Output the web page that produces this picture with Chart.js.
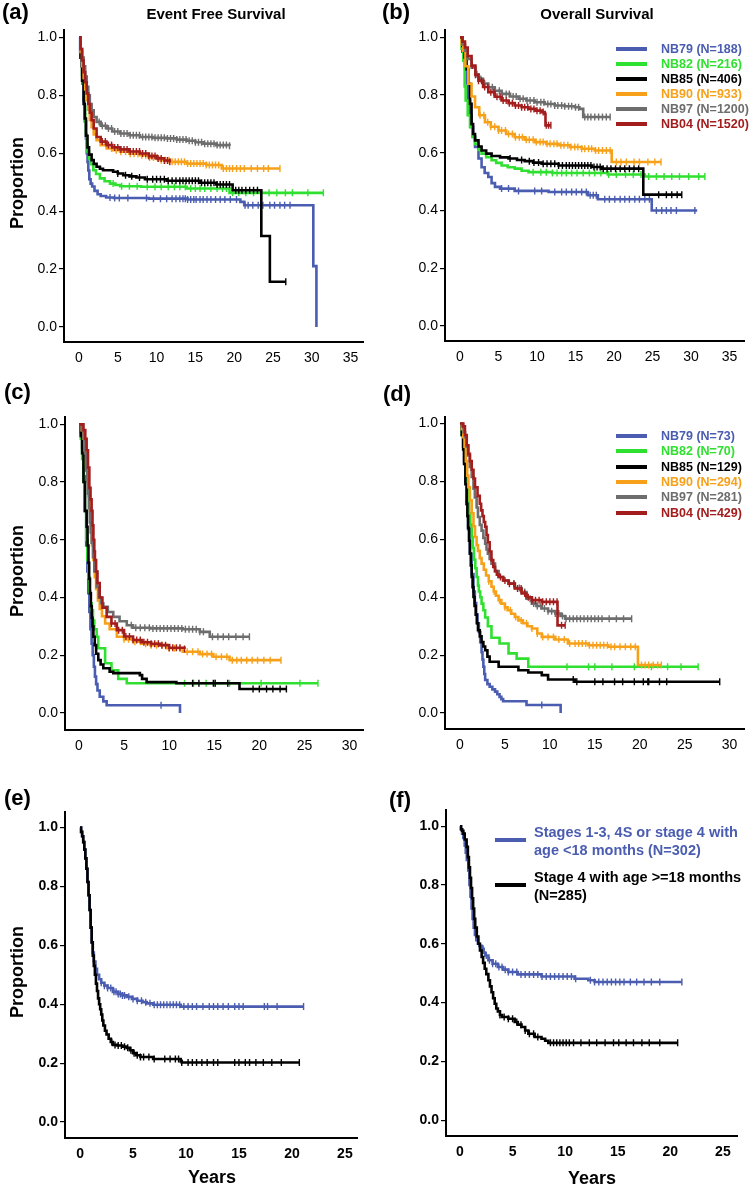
<!DOCTYPE html>
<html>
<head>
<meta charset="utf-8">
<title>Neuroblastoma survival by trial</title>
<script src="https://cdn.jsdelivr.net/npm/chart.js@4.4.1/dist/chart.umd.min.js"></script>
<style>
  html, body { margin: 0; padding: 0; background: #fff; }
  #page { position: relative; width: 750px; height: 1185px; overflow: hidden;
          font-family: "Liberation Sans", Arial, sans-serif; color: #000; }
  #page canvas, .txt, .key { position: absolute; }
  .txt { white-space: pre; font-weight: bold; line-height: 1; }
  .tag { font-size: 22px; }
  .head { font-size: 15px; }
  .axis-title { font-size: 18px; }
  .key { height: 4px; width: 31px; }
  .entry { font-size: 12.5px; line-height: 15px; }
  .entry2 { font-size: 14.5px; line-height: 18px; }
</style>
</head>
<body>
<div id="page"></div>
<script>
// cohorts and legend text
const cohortNames = ['NB79', 'NB82', 'NB85', 'NB90', 'NB97', 'NB04'];
const cohortColors = ['#4a5db0', '#30e030', '#000000', '#f7a11a', '#6d6d6d', '#a31d1d'];
const cohortNAll = [188, 216, 406, 933, 1200, 1520];
const cohortNHigh = [73, 70, 129, 294, 281, 429];
const stageLabels = ['Stages 1-3, 4S or stage 4 with\nage <18 months (N=302)', 'Stage 4 with age >=18 months\n(N=285)'];
const stageColors = ['#4a5db0', '#000000'];

const yTickValues = [0, 0.2, 0.4, 0.6, 0.8, 1.0];
const xTicks35 = [0, 5, 10, 15, 20, 25, 30, 35];
const xTicks30 = [0, 5, 10, 15, 20, 25, 30];
const xTicks25 = [0, 5, 10, 15, 20, 25];

// (a) event free survival, all patients: [years, proportion] after each step
const efs79 = [[0,1],[0.15,0.95],[0.3,0.9],[0.45,0.84],[0.6,0.78],[0.75,0.71],[0.9,0.65],[1.0,0.6],[1.1,0.57],[1.2,0.54],[1.33,0.51],[1.5,0.495],[1.7,0.485],[2.0,0.47],[2.4,0.458],[2.8,0.452],[3.5,0.447],[4.5,0.445],[9,0.443],[14,0.44],[20.8,0.432],[21.3,0.42],[30.2,0.21],[30.6,0.0]];
const efs82 = [[0,1],[0.2,0.93],[0.4,0.87],[0.56,0.84],[0.7,0.76],[0.8,0.71],[0.9,0.668],[1.0,0.63],[1.1,0.605],[1.3,0.58],[1.5,0.562],[1.85,0.541],[2.2,0.528],[2.7,0.513],[3.3,0.503],[4.0,0.495],[4.7,0.49],[5.3,0.486],[8,0.484],[13.9,0.478],[19.4,0.463],[31.5,0.463]];
const efs85 = [[0,1],[0.2,0.93],[0.4,0.85],[0.6,0.77],[0.75,0.72],[0.9,0.66],[1.1,0.62],[1.3,0.595],[1.63,0.576],[1.9,0.563],[2.27,0.553],[2.7,0.546],[3.1,0.541],[4.4,0.536],[5.0,0.53],[5.7,0.524],[6.5,0.52],[7.4,0.516],[8.5,0.51],[11.3,0.505],[15.6,0.498],[17.7,0.492],[19.8,0.472],[23.5,0.314],[24.6,0.156],[26.65,0.156]];
const efs90 = [[0,1],[0.2,0.95],[0.4,0.9],[0.6,0.86],[0.8,0.82],[1.0,0.783],[1.2,0.75],[1.4,0.715],[1.63,0.69],[1.9,0.665],[2.27,0.645],[2.8,0.628],[3.56,0.616],[4.3,0.61],[5.3,0.605],[6.5,0.598],[7.85,0.593],[9,0.585],[10.4,0.576],[11.7,0.57],[13.9,0.564],[16.4,0.559],[18.4,0.547],[25.9,0.547]];
const efs97 = [[0,1],[0.2,0.96],[0.4,0.93],[0.6,0.9],[0.8,0.865],[1.0,0.829],[1.2,0.8],[1.4,0.77],[1.63,0.748],[1.9,0.725],[2.27,0.708],[2.8,0.695],[3.56,0.685],[4.3,0.675],[5.3,0.668],[6.5,0.662],[7.85,0.656],[9.5,0.653],[11.3,0.651],[12.6,0.647],[13.9,0.643],[15.0,0.638],[16.0,0.633],[17.7,0.628],[19.4,0.626]];
const efs04 = [[0,1],[0.2,0.96],[0.4,0.92],[0.6,0.88],[0.8,0.845],[1.0,0.806],[1.2,0.77],[1.4,0.74],[1.63,0.714],[1.9,0.685],[2.27,0.656],[2.8,0.64],[3.56,0.628],[4.3,0.62],[5.3,0.613],[6.5,0.606],[7.85,0.599],[9,0.59],[10.0,0.582],[11.0,0.575],[11.7,0.57]];
// censored times
const efs79Cens = [4.0,4.6,5.2,6.3,8.7,9.6,10.5,11.3,12.0,12.5,13.0,13.4,13.7,14.0,14.4,14.8,15.1,15.6,16.0,16.5,17.0,17.6,18.2,18.8,19.5,20.3,21.4,21.8,22.4,23.1,23.7,24.6,25.2,25.9,26.5,27.2];
const efs82Cens = [4.4,5.5,6.5,7.5,8.8,9.8,10.6,11.5,12.3,13.0,13.7,14.4,15.0,15.6,16.2,17.0,17.8,18.5,19.0,19.8,20.6,21.5,22.5,23.5,24.5,25.5,26.6,27.5,29.5,31.5];
const efs85Cens = [5.0,6.0,6.8,7.8,8.8,9.5,10.0,10.5,11.0,11.5,12.0,12.5,13.0,13.4,13.8,14.2,14.6,15.0,15.4,15.8,16.2,16.6,17.0,17.4,17.8,18.2,18.6,19.0,19.4,20.2,20.6,21.0,21.5,22.0,22.5,23.0,26.65];
const efs90Cens = [4.2,4.8,5.4,6.0,6.6,7.1,7.6,8.1,8.6,9.1,9.6,10.1,10.6,11.1,11.6,12.0,12.4,12.8,13.2,13.6,14.0,14.4,14.8,15.2,15.6,16.0,16.4,16.8,17.2,17.6,18.0,18.6,19.0,19.4,19.8,20.3,20.8,21.3,22.2,23.0,23.8,24.4,25.9];
const efs97Cens = [2.6,3.0,3.4,3.8,4.2,4.6,5.0,5.4,5.8,6.2,6.6,7.0,7.4,7.8,8.2,8.6,9.0,9.4,9.8,10.2,10.6,11.0,11.4,11.8,12.2,12.6,13.0,13.4,13.8,14.2,14.6,15.0,15.4,15.8,16.2,16.6,17.0,17.4,17.8,18.2,18.6,19.0,19.4];
const efs04Cens = [3.0,3.4,3.8,4.2,4.6,5.0,5.4,5.8,6.2,6.6,7.0,7.4,7.8,8.2,8.6,9.0,9.4,9.8,10.2,10.6,11.0,11.4,11.7];

// (b) overall survival, all patients
const os79 = [[0,1],[0.3,0.95],[0.65,0.896],[0.85,0.84],[1.08,0.78],[1.3,0.73],[1.5,0.689],[1.7,0.655],[1.95,0.62],[2.4,0.58],[2.8,0.55],[3.2,0.53],[3.67,0.516],[4.1,0.495],[4.54,0.482],[5.2,0.476],[7.1,0.468],[11.5,0.464],[16.6,0.453],[17.9,0.439],[24.9,0.40],[30.8,0.40]];
const os82 = [[0,1],[0.2,0.96],[0.43,0.919],[0.6,0.83],[0.73,0.781],[1.0,0.73],[1.3,0.689],[1.6,0.655],[1.95,0.631],[2.4,0.61],[2.8,0.597],[3.4,0.585],[4.1,0.574],[4.7,0.565],[5.4,0.556],[6.2,0.55],[7.1,0.545],[8.0,0.538],[8.9,0.533],[12,0.53],[19.2,0.525],[24,0.518],[31.8,0.518]];
const os85 = [[0,1],[0.3,0.97],[0.6,0.93],[0.85,0.89],[1.08,0.839],[1.3,0.77],[1.5,0.7],[1.7,0.665],[1.95,0.643],[2.4,0.622],[2.8,0.608],[3.4,0.597],[4.1,0.589],[5.2,0.584],[6.3,0.58],[7.4,0.575],[8.4,0.571],[9.5,0.566],[10.6,0.562],[12.8,0.556],[17.1,0.551],[18.4,0.545],[23.8,0.455],[28.8,0.455]];
const os90 = [[0,1],[0.2,0.975],[0.43,0.954],[0.7,0.9],[1.08,0.839],[1.5,0.795],[1.95,0.758],[2.5,0.73],[3.24,0.706],[4.0,0.69],[5.0,0.677],[6.0,0.665],[7.1,0.654],[8.4,0.645],[9.7,0.637],[11.2,0.631],[12.8,0.626],[14.3,0.62],[15.8,0.614],[17.5,0.608],[19.7,0.568],[26.1,0.568]];
const os97 = [[0,1],[0.3,0.975],[0.65,0.954],[1.0,0.925],[1.5,0.896],[2.0,0.872],[2.4,0.856],[3.0,0.84],[3.67,0.827],[4.5,0.815],[5.4,0.804],[6.5,0.795],[7.6,0.787],[8.6,0.781],[9.7,0.775],[11.0,0.769],[12.3,0.764],[13.6,0.761],[14.9,0.758],[15.5,0.752],[16.0,0.724],[19.5,0.724]];
const os04 = [[0,1],[0.3,0.985],[0.65,0.965],[1.0,0.935],[1.5,0.902],[2.0,0.87],[2.4,0.85],[3.0,0.828],[3.67,0.81],[4.5,0.794],[5.4,0.781],[6.3,0.772],[7.1,0.764],[8.0,0.758],[8.9,0.752],[9.8,0.746],[10.6,0.741],[11.0,0.735],[11.1,0.695],[11.8,0.695]];
const os79Cens = [5.4,6.3,7.6,9.7,10.6,12.3,13.2,13.8,14.5,15.1,15.8,16.4,16.9,17.3,17.7,18.8,19.4,20.1,20.8,21.4,22.0,22.7,23.3,24.0,24.6,25.5,26.2,26.8,27.4,28.1,30.5];
const os82Cens = [9.5,10.5,11.2,12.0,12.6,13.2,13.8,14.5,15.2,16.0,16.8,17.5,18.3,19.3,20.3,21.5,22.5,23.5,24.5,25.5,26.5,27.5,28.5,29.7,31.0,31.8];
const os85Cens = [6.5,8.0,9.0,9.6,10.2,10.8,11.3,11.8,12.3,12.8,13.3,13.8,14.2,14.6,15.0,15.4,15.8,16.2,16.6,17.0,17.4,17.8,18.2,18.6,19.1,19.6,20.2,20.8,21.4,22.0,22.6,23.2,25.8,26.8,27.5,28.2,28.8];
const os90Cens = [2.6,3.1,3.6,4.0,4.5,5.0,5.4,5.9,6.3,6.8,7.2,7.7,8.1,8.6,9.0,9.5,9.9,10.4,10.8,11.3,11.7,12.2,12.6,13.1,13.5,14.0,14.4,14.9,15.3,15.8,16.2,16.7,17.1,17.6,18.0,18.5,19.0,19.5,20.3,20.9,21.6,22.6,23.3,24.4,25.3,26.1];
const os97Cens = [2.2,2.7,3.2,3.7,4.2,4.6,5.1,5.5,6.0,6.4,6.9,7.3,7.8,8.2,8.7,9.1,9.6,10.0,10.5,10.9,11.4,11.8,12.3,12.7,13.2,13.6,14.1,14.5,15.0,15.4,16.2,16.6,17.0,17.5,18.0,18.5,19.0,19.5];
const os04Cens = [1.6,2.0,2.4,2.8,3.2,3.6,4.0,4.4,4.8,5.2,5.6,6.0,6.4,6.8,7.2,7.6,8.0,8.4,8.8,9.2,9.6,10.0,10.4,10.8,11.2,11.5,11.8];

// (c) event free survival, high risk
const hrEfs79 = [[0,1],[0.2,0.97],[0.35,0.92],[0.5,0.82],[0.66,0.7],[0.8,0.58],[0.92,0.49],[1.03,0.415],[1.15,0.35],[1.27,0.29],[1.4,0.24],[1.52,0.2],[1.65,0.16],[1.77,0.126],[1.9,0.1],[2.05,0.078],[2.3,0.056],[2.7,0.04],[3.07,0.027],[11.2,0.0]];
const hrEfs82 = [[0,1],[0.2,0.95],[0.35,0.88],[0.5,0.8],[0.66,0.7],[0.8,0.6],[0.92,0.53],[1.03,0.47],[1.15,0.42],[1.27,0.38],[1.4,0.356],[1.55,0.32],[1.7,0.29],[1.96,0.264],[2.14,0.224],[2.9,0.172],[3.6,0.148],[4.35,0.118],[5.3,0.103],[26.5,0.103]];
const hrEfs85 = [[0,1],[0.2,0.96],[0.35,0.9],[0.5,0.8],[0.66,0.7],[0.85,0.645],[0.95,0.58],[1.05,0.52],[1.13,0.465],[1.22,0.415],[1.32,0.37],[1.42,0.33],[1.5,0.3],[1.6,0.264],[1.75,0.235],[1.9,0.205],[2.14,0.183],[2.4,0.168],[2.7,0.155],[3.4,0.143],[3.8,0.138],[6.75,0.131],[7.0,0.118],[7.5,0.107],[10.8,0.103],[17.8,0.083],[23.0,0.083]];
const hrEfs90 = [[0,1],[0.3,0.98],[0.5,0.95],[0.66,0.91],[0.8,0.86],[0.95,0.8],[1.08,0.75],[1.22,0.7],[1.32,0.64],[1.45,0.58],[1.6,0.53],[1.75,0.47],[1.9,0.43],[2.1,0.39],[2.3,0.36],[2.55,0.335],[2.9,0.31],[3.4,0.29],[4.2,0.264],[5.0,0.255],[6.0,0.247],[7.0,0.24],[7.9,0.235],[9.7,0.224],[11.5,0.212],[13.4,0.204],[14.9,0.195],[16.7,0.183],[22.4,0.183]];
const hrEfs97 = [[0,1],[0.3,0.98],[0.5,0.95],[0.66,0.9],[0.8,0.84],[0.9,0.8],[1.0,0.76],[1.1,0.71],[1.2,0.66],[1.3,0.625],[1.4,0.59],[1.55,0.54],[1.7,0.49],[1.96,0.437],[2.2,0.4],[2.45,0.38],[2.7,0.368],[3.2,0.35],[3.8,0.333],[4.5,0.318],[5.3,0.304],[6.0,0.295],[7.9,0.293],[11.5,0.29],[13.4,0.281],[14.5,0.264],[18.9,0.264]];
const hrEfs04 = [[0,1],[0.3,1.0],[0.5,0.98],[0.7,0.95],[0.85,0.91],[1.0,0.85],[1.15,0.78],[1.28,0.74],[1.4,0.7],[1.5,0.65],[1.6,0.6],[1.7,0.56],[1.77,0.53],[1.9,0.49],[2.05,0.45],[2.3,0.4],[2.6,0.365],[3.07,0.333],[3.6,0.31],[4.2,0.287],[5.0,0.265],[6.0,0.253],[7.0,0.245],[8.0,0.24],[9.0,0.235],[10.0,0.226],[11.7,0.222]];
const hrEfs79Cens = [9.1];
const hrEfs82Cens = [11.7,12.7,14.1,15.1,16.7,20.2,24.5,26.5];
const hrEfs85Cens = [12.6,13.3,14.9,15.1,16.5,19.3,20.0,20.8,21.5,22.3,23.0];
const hrEfs90Cens = [5.0,5.5,6.2,6.8,7.4,8.0,8.6,9.2,10.0,10.6,11.2,12.0,12.6,13.2,13.7,14.2,14.7,15.2,15.8,16.4,17.0,17.5,18.0,18.6,19.2,19.8,20.5,21.2,22.4];
const hrEfs97Cens = [5.8,6.3,6.8,7.3,7.8,8.2,8.6,9.0,9.4,9.8,10.2,10.6,11.0,11.4,11.8,12.2,12.6,13.0,13.4,13.8,14.8,15.4,16.0,16.6,17.4,18.2,18.9];
const hrEfs04Cens = [3.6,4.0,4.4,4.8,5.2,5.6,6.0,6.4,6.8,7.2,7.6,8.0,8.4,8.8,9.2,9.6,10.0,10.4,10.8,11.2,11.7];

// (d) overall survival, high risk
const hrOs79 = [[0,1],[0.2,0.96],[0.35,0.92],[0.45,0.87],[0.6,0.8],[0.74,0.72],[0.9,0.635],[1.1,0.55],[1.3,0.48],[1.5,0.42],[1.65,0.38],[1.8,0.34],[1.95,0.31],[2.1,0.28],[2.25,0.245],[2.4,0.21],[2.5,0.185],[2.6,0.16],[2.7,0.135],[2.8,0.114],[3.05,0.1],[3.3,0.091],[3.6,0.082],[3.9,0.074],[4.15,0.065],[4.4,0.056],[4.6,0.048],[4.8,0.041],[7.4,0.028],[11.2,0.0]];
const hrOs82 = [[0,1],[0.2,0.96],[0.35,0.92],[0.5,0.86],[0.62,0.82],[0.74,0.78],[0.87,0.735],[1.0,0.69],[1.15,0.65],[1.3,0.608],[1.42,0.57],[1.55,0.53],[1.7,0.5],[1.85,0.47],[2.0,0.44],[2.1,0.42],[2.25,0.4],[2.4,0.378],[2.6,0.355],[2.8,0.33],[3.1,0.3],[3.5,0.26],[4.4,0.24],[5.4,0.206],[6.3,0.188],[7.6,0.16],[26.5,0.16]];
const hrOs85 = [[0,1],[0.2,0.96],[0.35,0.91],[0.45,0.86],[0.6,0.79],[0.74,0.723],[0.82,0.68],[0.9,0.64],[1.0,0.595],[1.1,0.551],[1.2,0.51],[1.3,0.47],[1.4,0.435],[1.5,0.401],[1.62,0.37],[1.75,0.34],[1.87,0.31],[2.0,0.286],[2.2,0.265],[2.4,0.245],[2.6,0.23],[2.8,0.217],[3.05,0.195],[3.3,0.177],[4.3,0.16],[6.5,0.148],[7.6,0.14],[9.1,0.131],[9.8,0.116],[12.8,0.108],[28.9,0.108]];
const hrOs90 = [[0,1],[0.2,0.98],[0.37,0.953],[0.5,0.92],[0.65,0.87],[0.8,0.82],[0.93,0.78],[1.1,0.735],[1.3,0.69],[1.5,0.645],[1.67,0.608],[1.85,0.58],[2.0,0.56],[2.2,0.535],[2.4,0.516],[2.65,0.495],[2.9,0.475],[3.2,0.455],[3.5,0.436],[3.75,0.42],[4.0,0.405],[4.3,0.39],[4.6,0.378],[5.0,0.365],[5.3,0.355],[5.7,0.343],[6.1,0.332],[6.5,0.32],[7.0,0.31],[7.5,0.3],[8.0,0.292],[8.6,0.275],[9.1,0.263],[10.6,0.254],[12.0,0.24],[14.3,0.234],[16.5,0.229],[19.8,0.166],[22.4,0.166]];
const hrOs97 = [[0,1],[0.2,0.99],[0.4,0.97],[0.56,0.953],[0.75,0.92],[0.9,0.89],[1.1,0.85],[1.3,0.815],[1.5,0.775],[1.65,0.745],[1.85,0.71],[2.0,0.677],[2.2,0.65],[2.4,0.63],[2.6,0.605],[2.8,0.585],[2.95,0.565],[3.1,0.55],[3.3,0.532],[3.5,0.516],[3.9,0.49],[4.3,0.47],[4.8,0.458],[5.4,0.447],[6.1,0.432],[6.85,0.418],[7.4,0.395],[8.0,0.378],[8.5,0.37],[9.1,0.361],[9.8,0.352],[10.6,0.344],[11.2,0.335],[11.7,0.326],[19.1,0.326]];
const hrOs04 = [[0,1],[0.2,1.0],[0.37,0.99],[0.55,0.96],[0.75,0.925],[0.93,0.895],[1.1,0.87],[1.3,0.84],[1.5,0.81],[1.67,0.78],[1.95,0.75],[2.2,0.723],[2.35,0.7],[2.5,0.68],[2.65,0.66],[2.8,0.643],[2.95,0.615],[3.1,0.59],[3.3,0.558],[3.5,0.528],[3.7,0.505],[3.9,0.49],[4.1,0.478],[4.3,0.47],[4.8,0.458],[5.4,0.447],[6.1,0.43],[6.85,0.413],[7.4,0.4],[8.0,0.39],[9.1,0.384],[10.85,0.303],[11.7,0.303]];
const hrOs79Cens = [9.1];
const hrOs82Cens = [11.9,14.3,15.0,16.9,19.4,21.3,23.1,24.6,26.5];
const hrOs85Cens = [12.6,13.0,15.0,15.9,17.2,18.1,19.4,20.4,20.9,21.0,22.2,23.0,28.9];
const hrOs90Cens = [3.2,3.8,4.4,5.0,5.6,6.2,6.8,7.4,8.0,8.6,9.2,9.8,10.4,11.0,11.6,12.2,12.8,13.2,13.6,14.0,14.4,14.8,15.2,15.6,16.0,16.4,16.8,17.2,17.8,18.4,19.0,19.5,20.2,20.6,21.0,21.5,22.0,22.4];
const hrOs97Cens = [6.0,6.6,7.2,7.8,8.2,8.6,9.0,9.4,9.8,10.2,10.6,11.0,11.4,11.8,12.2,12.6,13.0,13.4,13.8,14.2,14.6,15.0,15.4,15.8,16.6,17.4,18.2,19.1];
const hrOs04Cens = [4.5,5.0,5.5,6.0,6.4,6.8,7.2,7.6,8.0,8.4,8.8,9.2,9.6,10.0,10.4,10.8,11.3,11.7];

// (e) event free survival by stage/age
const stEfsLow = [[0,1],[0.1,0.985],[0.2,0.97],[0.3,0.95],[0.4,0.925],[0.5,0.895],[0.6,0.86],[0.7,0.815],[0.8,0.77],[0.9,0.72],[1.0,0.66],[1.1,0.61],[1.2,0.575],[1.3,0.545],[1.45,0.52],[1.6,0.5],[1.8,0.485],[2.0,0.473],[2.3,0.463],[2.6,0.455],[3.1,0.442],[3.6,0.435],[4.0,0.43],[4.4,0.425],[4.9,0.418],[5.4,0.412],[5.9,0.407],[6.3,0.403],[6.9,0.398],[9.5,0.392],[21.1,0.392]];
const stEfsHigh = [[0,1],[0.1,0.985],[0.2,0.97],[0.3,0.95],[0.4,0.925],[0.5,0.895],[0.6,0.86],[0.7,0.815],[0.8,0.77],[0.9,0.72],[1.0,0.66],[1.1,0.61],[1.2,0.565],[1.3,0.53],[1.4,0.5],[1.5,0.47],[1.6,0.445],[1.7,0.42],[1.8,0.4],[1.9,0.383],[2.0,0.365],[2.1,0.345],[2.2,0.328],[2.35,0.31],[2.5,0.297],[2.7,0.283],[2.9,0.272],[3.1,0.262],[3.5,0.26],[4.0,0.256],[4.4,0.252],[4.7,0.244],[5.0,0.234],[5.3,0.227],[5.7,0.221],[6.9,0.214],[9.5,0.206],[9.6,0.202],[20.7,0.202]];
const stEfsLowCens = [2.0,2.3,2.6,2.9,3.2,3.4,3.6,3.8,4.0,4.2,4.6,5.0,5.4,5.8,6.2,6.6,7.0,7.3,7.6,7.9,8.2,8.5,8.8,9.1,9.4,9.8,10.2,10.6,11.0,11.6,12.2,12.6,13.0,13.5,14.0,14.6,15.0,15.4,17.4,17.7,18.6,21.1];
const stEfsHighCens = [3.0,3.3,3.6,3.9,4.2,4.5,4.8,5.1,5.4,5.7,6.0,6.5,7.0,8.0,8.5,9.0,9.3,9.6,10.2,10.6,11.0,11.5,12.0,12.6,13.0,14.6,15.0,15.6,16.0,16.6,17.3,18.1,19.0,20.7];

// (f) overall survival by stage/age
const stOsLow = [[0,1],[0.1,0.99],[0.2,0.975],[0.32,0.96],[0.45,0.935],[0.55,0.91],[0.65,0.885],[0.79,0.85],[0.9,0.8],[1.0,0.76],[1.1,0.72],[1.2,0.685],[1.3,0.655],[1.42,0.63],[1.55,0.612],[1.7,0.6],[1.85,0.593],[2.06,0.583],[2.25,0.57],[2.4,0.56],[2.7,0.544],[3.1,0.532],[3.6,0.521],[4.1,0.512],[4.6,0.504],[5.5,0.496],[7.75,0.489],[10.9,0.481],[12.2,0.476],[12.8,0.47],[21.1,0.47]];
const stOsHigh = [[0,1],[0.1,0.99],[0.2,0.985],[0.32,0.975],[0.45,0.955],[0.63,0.93],[0.75,0.895],[0.85,0.86],[0.95,0.825],[1.05,0.79],[1.15,0.755],[1.25,0.72],[1.35,0.685],[1.45,0.655],[1.6,0.625],[1.75,0.6],[1.9,0.577],[2.06,0.555],[2.2,0.535],[2.35,0.515],[2.5,0.497],[2.7,0.476],[2.85,0.455],[3.0,0.435],[3.15,0.415],[3.3,0.396],[3.45,0.38],[3.6,0.37],[3.8,0.358],[4.0,0.351],[4.6,0.345],[5.2,0.334],[5.5,0.325],[5.85,0.317],[6.2,0.305],[6.5,0.294],[7.1,0.283],[7.75,0.277],[8.1,0.27],[8.4,0.263],[20.7,0.263]];
const stOsLowCens = [2.2,2.5,2.8,3.1,3.4,3.7,4.0,4.3,4.6,5.0,5.4,5.8,6.2,6.6,7.0,7.4,7.8,8.2,8.6,9.0,9.4,9.8,10.2,10.6,11.0,12.4,12.8,13.2,13.6,14.0,14.4,14.8,15.2,15.6,16.2,16.8,17.5,18.2,19.0,21.1];
const stOsHighCens = [3.8,4.2,4.6,5.0,5.4,5.8,6.2,6.6,7.0,7.4,8.6,8.9,9.2,9.5,9.8,10.1,10.4,10.8,11.5,12.3,13.0,13.8,14.6,15.1,15.8,16.5,17.3,18.0,19.0,20.7];

Chart.defaults.font.family = '"Liberation Sans", Arial, sans-serif';
const page = document.getElementById('page');

// value of a step curve at time t (last step at or before t)
function valueAt(steps, t) {
  let v = steps[0][1];
  for (const [x, y] of steps) {
    if (x <= t) v = y; else break;
  }
  return v;
}

function addText(text, cls, x, y, tf, color) {
  const d = document.createElement('div');
  d.className = 'txt ' + cls;
  d.textContent = text;
  d.style.left = x + 'px';
  d.style.top = y + 'px';
  d.style.transform = tf || 'translate(0,-50%)';
  if (color) d.style.color = color;
  page.appendChild(d);
  return d;
}

function addKey(x, y, color) {
  const k = document.createElement('div');
  k.className = 'key';
  k.style.left = x + 'px';
  k.style.top = (y - 2) + 'px';
  k.style.background = color;
  page.appendChild(k);
}

const Y_W = 64, X_H = 40, PAD_T = 10, PAD_R = 5;

function drawPanel(box, curves, censored, colors) {
  const cv = document.createElement('canvas');
  const w = box.right - box.left + Y_W + PAD_R;
  const h = box.bottom - box.top + PAD_T + X_H;
  cv.width = w; cv.height = h;
  cv.style.width = w + 'px'; cv.style.height = h + 'px';
  cv.style.left = (box.left - Y_W) + 'px';
  cv.style.top = (box.top - PAD_T) + 'px';
  page.appendChild(cv);

  const n = curves.length;
  const datasets = [];
  curves.forEach((steps, i) => {
    datasets.push({
      data: steps.map(([x, y]) => ({ x, y })),
      borderColor: colors[i], borderWidth: 2.6, stepped: true,
      pointRadius: 0, fill: false, order: n - i
    });
    datasets.push({
      data: censored[i].map(t => ({ x: t, y: valueAt(steps, t) })),
      showLine: false, pointStyle: 'line', rotation: 90, pointRadius: 3.5,
      pointBorderWidth: 1.4, pointBorderColor: colors[i], borderColor: colors[i],
      order: n - i
    });
  });

  const tickFont = { size: 14, weight: box.bold ? 'bold' : 'normal' };
  new Chart(cv, {
    type: 'line',
    data: { datasets },
    options: {
      responsive: false, animation: false,
      layout: { padding: { top: PAD_T, right: PAD_R, left: 0, bottom: 0 } },
      plugins: { legend: { display: false }, tooltip: { enabled: false } },
      scales: {
        x: {
          type: 'linear', min: box.xMin, max: box.xMax,
          afterFit: s => { s.height = X_H; },
          afterBuildTicks: s => { s.ticks = box.xTicks.map(v => ({ value: v })); },
          border: { display: true, color: '#000', width: 2 },
          grid: { display: true, drawOnChartArea: false, drawTicks: false },
          ticks: { font: tickFont, color: '#000', padding: 8, maxRotation: 0, autoSkip: false,
                   callback: v => String(v) }
        },
        y: {
          type: 'linear', min: box.yMin, max: box.yMax,
          afterFit: s => { s.width = Y_W; },
          afterBuildTicks: s => { s.ticks = yTickValues.map(v => ({ value: v })); },
          border: { display: true, color: '#000', width: 2 },
          grid: { display: true, drawOnChartArea: false, drawTicks: true, tickLength: 5,
                  color: '#000', lineWidth: 1.2 },
          ticks: { font: tickFont, color: '#000', padding: 2, autoSkip: false,
                   callback: v => v.toFixed(1) }
        }
      }
    }
  });
}

// panel (a)
drawPanel({ left: 64, top: 30, right: 364, bottom: 342, xMin: -1.93, xMax: 36.68, yMin: -0.052, yMax: 1.024, xTicks: xTicks35 },
  [efs79, efs82, efs85, efs90, efs97, efs04],
  [efs79Cens, efs82Cens, efs85Cens, efs90Cens, efs97Cens, efs04Cens], cohortColors);
// panel (b)
drawPanel({ left: 445, top: 30, right: 745, bottom: 341, xMin: -1.95, xMax: 36.96, yMin: -0.052, yMax: 1.024, xTicks: xTicks35 },
  [os79, os82, os85, os90, os97, os04],
  [os79Cens, os82Cens, os85Cens, os90Cens, os97Cens, os04Cens], cohortColors);
// panel (c)
drawPanel({ left: 65, top: 417, right: 364, bottom: 730, xMin: -1.55, xMax: 31.56, yMin: -0.059, yMax: 1.024, xTicks: xTicks30 },
  [hrEfs79, hrEfs82, hrEfs85, hrEfs90, hrEfs97, hrEfs04],
  [hrEfs79Cens, hrEfs82Cens, hrEfs85Cens, hrEfs90Cens, hrEfs97Cens, hrEfs04Cens], cohortColors);
// panel (d)
drawPanel({ left: 445, top: 417, right: 745, bottom: 729, xMin: -1.67, xMax: 31.67, yMin: -0.055, yMax: 1.021, xTicks: xTicks30 },
  [hrOs79, hrOs82, hrOs85, hrOs90, hrOs97, hrOs04],
  [hrOs79Cens, hrOs82Cens, hrOs85Cens, hrOs90Cens, hrOs97Cens, hrOs04Cens], cohortColors);
// panel (e)
drawPanel({ left: 65, top: 812, right: 358, bottom: 1138, xMin: -1.42, xMax: 26.2, yMin: -0.054, yMax: 1.051, xTicks: xTicks25, bold: true },
  [stEfsLow, stEfsHigh], [stEfsLowCens, stEfsHighCens], stageColors);
// panel (f)
drawPanel({ left: 446, top: 810, right: 738, bottom: 1136, xMin: -1.33, xMax: 26.4, yMin: -0.054, yMax: 1.054, xTicks: xTicks25, bold: true },
  [stOsLow, stOsHigh], [stOsLowCens, stOsHighCens], stageColors);

// panel letters and headings
addText('(a)', 'tag', 2, 12);
addText('(b)', 'tag', 382, 12);
addText('(c)', 'tag', 4, 392);
addText('(d)', 'tag', 383, 394);
addText('(e)', 'tag', 4, 798);
addText('(f)', 'tag', 389, 800);
addText('Event Free Survival', 'head', 216, 13, 'translate(-50%,-50%)');
addText('Overall Survival', 'head', 597, 13, 'translate(-50%,-50%)');

// axis titles
[183, 571, 972].forEach(y => addText('Proportion', 'axis-title', 17, y, 'translate(-50%,-50%) rotate(-90deg)'));
addText('Years', 'axis-title', 212, 1177, 'translate(-50%,-50%)');
addText('Years', 'axis-title', 592, 1178, 'translate(-50%,-50%)');

// legends
cohortNames.forEach((name, i) => {
  const yb = 49.3 + 15 * i;
  addKey(616, yb, cohortColors[i]);
  addText(name + ' (N=' + cohortNAll[i] + ')', 'entry', 661, yb, null, cohortColors[i]);
  const yd = 435.7 + 15.4 * i;
  addKey(616, yd, cohortColors[i]);
  addText(name + ' (N=' + cohortNHigh[i] + ')', 'entry', 661, yd, null, cohortColors[i]);
});
stageLabels.forEach((label, i) => {
  const yk = 840 + 45 * i;
  addKey(495, yk, stageColors[i]);
  addText(label, 'entry2', 534, yk - 8.5, 'translate(0,-9px)', stageColors[i]);
});
</script>
</body>
</html>
